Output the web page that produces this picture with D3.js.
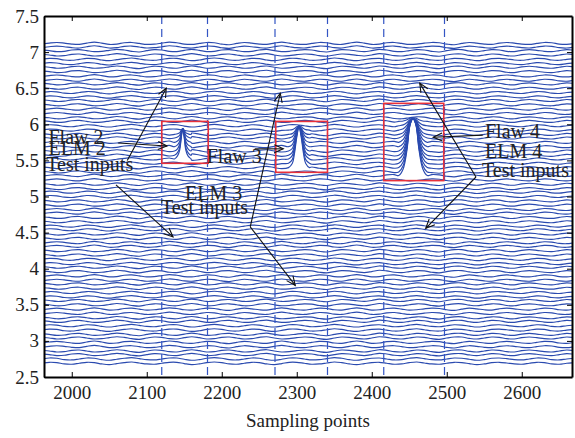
<!DOCTYPE html>
<html>
<head>
<meta charset="utf-8">
<script src="https://cdn.jsdelivr.net/npm/d3@7"></script>
<style>
  body { margin: 0; background: #fff; }
  .tick text { font-family: "Liberation Serif", serif; font-size: 19px; fill: #222; }
  .note { font-family: "Liberation Serif", serif; font-size: 20px; fill: #222; }
</style>
</head>
<body>
<script>
// baselines of the signal traces (one per test input)
var baselines = [2.69, 2.75, 2.81, 2.86, 2.92, 2.98, 3.04, 3.09, 3.15, 3.21, 3.27, 3.32, 3.38, 3.44, 3.50, 3.56,
  3.61, 3.67, 3.73, 3.79, 3.84, 3.90, 3.96, 4.02, 4.07, 4.13, 4.19, 4.25, 4.31, 4.36, 4.42, 4.48, 4.54, 4.59,
  4.65, 4.71, 4.77, 4.82, 4.88, 4.94, 5.00, 5.06, 5.11, 5.17, 5.23, 5.29, 5.34, 5.40, 5.46, 5.52, 5.57, 5.63,
  5.69, 5.75, 5.81, 5.86, 5.92, 5.98, 6.04, 6.09, 6.15, 6.21, 6.27, 6.33, 6.38, 6.44, 6.50, 6.56, 6.61, 6.67,
  6.73, 6.79, 6.84, 6.90, 6.96, 7.02, 7.07, 7.12];

// wiggle profiles, sampled every 10 points starting at 1960 (units of 0.01)
var startX = 1960, stepX = 10;
var wiggle0 = [0, 1.5, 1, -1, -1.5, 0, 1.5, 1, -1, -2, -0.5, 1,
  2, 0.5, -1, -1.5, 0, 1.5, 1.5, -0.5, -2, -1, 1, 2,
  1, -1, -1.5, 0, 1.5, 1, -1, -2, -0.5, 1.5, 1.5, 0,
  -1.5, -1, 0.5, 2, 1, -1, -2, -0.5, 1, 1.5, 0, -1.5,
  -1, 1, 2, 0.5, -1, -1.5, 0, 1.5, 1, -0.5, -2, -1,
  1, 1.5, 0.5, -1, -1.5, 0, 1.5, 1, -1, -1.5, 0, 1];
var wiggle1 = [1, 0, -1.5, -1, 1, 1.5, 0, -1.5, -1, 0.5, 2, 1,
  -1, -2, 0, 1.5, 1, -1, -1.5, 0.5, 2, 0.5, -1.5, -1,
  1, 1.5, 0, -1.5, -1, 1, 2, 0, -1.5, -1, 0.5, 1.5,
  1, -1, -2, 0, 1.5, 1, -0.5, -1.5, 0, 2, 1, -1,
  -1.5, 0, 1.5, 1, -1, -2, 0, 1.5, 1.5, -0.5, -1.5, 0,
  1.5, 1, -1, -1.5, 0.5, 1.5, 0.5, -1, -1.5, 0, 1.5, 0.5];
var wiggle2 = [-1, 0.5, 1.5, 0.5, -1, -1.5, 0.5, 2, 0.5, -1.5, -1, 1,
  1.5, 0, -1.5, -1, 0.5, 2, 1, -1, -1.5, 0, 1.5, 1,
  -1, -2, 0, 1.5, 0.5, -1, -1.5, 0.5, 2, 0.5, -1, -1.5,
  0, 1.5, 1, -1, -1.5, 0.5, 2, 0.5, -1.5, -1, 1, 1.5,
  0, -1.5, -1, 0.5, 1.5, 1, -1, -2, 0, 1.5, 0.5, -1,
  -1.5, 0.5, 1.5, 0.5, -1, -1.5, 0, 1.5, 1, -1, -1.5, 0];
var wiggles = [wiggle0, wiggle1, wiggle2];
var profileCycle = [0, 0, 1, 1, 2, 2, 1, 1];

// flaw echoes: centre, sample offsets, shape, affected traces and their peak heights
var flaw2Center = 2148;
var flaw2Offsets = [-11, -7, -4, -2, 0, 2, 4, 7, 11];
var flaw2Shape = [0, 0.1, 0.3, 0.7, 1, 0.7, 0.3, 0.1, 0];
var flaw2Lines = [5.52, 5.57, 5.63, 5.69, 5.75, 5.81, 5.86];
var flaw2Amps = [0.42, 0.37, 0.31, 0.25, 0.19, 0.13, 0.08];

var flaw3Center = 2303;
var flaw3Offsets = [-14, -9, -6, -3, 0, 3, 6, 9, 14];
var flaw3Shape = [0, 0.1, 0.35, 0.75, 1, 0.75, 0.35, 0.1, 0];
var flaw3Lines = [5.40, 5.46, 5.52, 5.57, 5.63, 5.69, 5.75, 5.81, 5.86, 5.92];
var flaw3Amps = [0.56, 0.51, 0.46, 0.41, 0.35, 0.29, 0.23, 0.17, 0.11, 0.06];

var flaw4Center = 2455;
var flaw4Offsets = [-19, -13, -8, -4, 0, 4, 8, 13, 19];
var flaw4Shape = [0, 0.12, 0.45, 0.88, 1, 0.88, 0.45, 0.12, 0];
var flaw4Lines = [5.29, 5.34, 5.40, 5.46, 5.52, 5.57, 5.63, 5.69, 5.75, 5.81, 5.86, 5.92, 5.98, 6.04];
var flaw4Amps = [0.79, 0.74, 0.68, 0.62, 0.56, 0.5, 0.45, 0.39, 0.33, 0.27, 0.21, 0.15, 0.1, 0.05];

var flaws = [
  {c: flaw2Center, off: flaw2Offsets, shape: flaw2Shape, lines: flaw2Lines, amps: flaw2Amps},
  {c: flaw3Center, off: flaw3Offsets, shape: flaw3Shape, lines: flaw3Lines, amps: flaw3Amps},
  {c: flaw4Center, off: flaw4Offsets, shape: flaw4Shape, lines: flaw4Lines, amps: flaw4Amps}
];

// dashed window boundaries
var windowEdges = [2120, 2181, 2271, 2341, 2416, 2497];

// red boxes [x0, x1, y0, y1]
var boxes = [[2120, 2182, 5.46, 6.04], [2272, 2341, 5.335, 6.04], [2416, 2496, 5.22, 6.29]];

var xTicks = [2000, 2100, 2200, 2300, 2400, 2500, 2600];
var yTicks = [2.5, 3, 3.5, 4, 4.5, 5, 5.5, 6, 6.5, 7, 7.5];

// annotations (data coordinates)
var labels = [
  ["Flaw 2", 1969, 5.73], ["ELM 2", 1969, 5.57], ["Test inputs", 1966, 5.35],
  ["Flaw 3", 2180, 5.46], ["ELM 3", 2151, 4.95], ["Test inputs", 2119, 4.76],
  ["Flaw 4", 2551, 5.81], ["ELM 4", 2551, 5.53], ["Test inputs", 2547, 5.27]
];
var arrows = [
  [2062, 5.74, 2127, 5.70], [2074, 5.50, 2126, 6.50], [2059, 5.16, 2135, 4.44],
  [2244, 5.66, 2282, 5.66], [2238, 4.58, 2278, 6.43], [2238, 4.58, 2298, 3.77],
  [2548, 5.85, 2482, 5.82], [2539, 5.27, 2464, 6.57], [2539, 5.27, 2472, 4.56]
];

var W = 575, H = 438;
var mLeft = 44, mRight = 572, mTop = 16, mBottom = 377;

var svg = d3.select("body").append("svg")
    .attr("width", W)
    .attr("height", H);

var x = d3.scaleLinear().domain([1963, 2667]).range([mLeft, mRight]);
var y = d3.scaleLinear().domain([2.5, 7.5]).range([mBottom, mTop]);

var defs = svg.append("defs");
defs.append("clipPath").attr("id", "clip")
  .append("rect").attr("x", mLeft).attr("y", mTop).attr("width", mRight - mLeft).attr("height", mBottom - mTop);

defs.append("marker")
    .attr("id", "head")
    .attr("viewBox", "-10 -6 12 12")
    .attr("markerWidth", 12).attr("markerHeight", 12)
    .attr("markerUnits", "userSpaceOnUse")
    .attr("orient", "auto")
  .append("path")
    .attr("d", "M-9,-4L0,0L-9,4")
    .attr("fill", "none")
    .attr("stroke", "#111")
    .attr("stroke-width", 1.1);

// build each trace: wiggle points, with flaw echoes replacing the samples they cover
function tracePoints(i) {
  var b = baselines[i];
  var w = wiggles[profileCycle[i % profileCycle.length]];
  var hits = [];
  flaws.forEach(function(fl) {
    var k = fl.lines.indexOf(b);
    if (k >= 0) hits.push({f: fl, amp: fl.amps[k]});
  });
  var pts = [];
  w.forEach(function(v, j) {
    var sx = startX + j * stepX;
    var inside = hits.some(function(h) {
      return sx >= h.f.c + h.f.off[0] && sx <= h.f.c + h.f.off[h.f.off.length - 1];
    });
    if (!inside) pts.push([sx, b + v * 0.009]);
  });
  hits.forEach(function(h) {
    h.f.off.forEach(function(o, j) {
      pts.push([h.f.c + o, b + h.amp * h.f.shape[j]]);
    });
  });
  pts.sort(function(a, c) { return a[0] - c[0]; });
  return pts;
}

var line = d3.line()
    .x(function(d) { return x(d[0]); })
    .y(function(d) { return y(d[1]); })
    .curve(d3.curveCatmullRom);

var plot = svg.append("g").attr("clip-path", "url(#clip)");

plot.selectAll(".trace")
    .data(baselines.map(function(b, i) { return tracePoints(i); }))
  .enter().append("path")
    .attr("class", "trace")
    .attr("d", line)
    .attr("fill", "none")
    .attr("stroke", "#2a4aaf")
    .attr("stroke-width", 1.15);

plot.selectAll(".edge")
    .data(windowEdges)
  .enter().append("line")
    .attr("x1", function(d) { return x(d); })
    .attr("x2", function(d) { return x(d); })
    .attr("y1", mTop)
    .attr("y2", mBottom)
    .attr("stroke", "#3355c4")
    .attr("stroke-width", 1.2)
    .attr("stroke-dasharray", "8,5");

plot.selectAll(".box")
    .data(boxes)
  .enter().append("rect")
    .attr("x", function(d) { return x(d[0]); })
    .attr("y", function(d) { return y(d[3]); })
    .attr("width", function(d) { return x(d[1]) - x(d[0]); })
    .attr("height", function(d) { return y(d[2]) - y(d[3]); })
    .attr("fill", "none")
    .attr("stroke", "#e8303a")
    .attr("stroke-width", 1.6);

// axes
var xaxis = d3.axisBottom(x).tickValues(xTicks).tickSizeInner(-5).tickSizeOuter(0).tickPadding(9)
    .tickFormat(d3.format("d"));
var yaxis = d3.axisLeft(y).tickValues(yTicks).tickSizeInner(-5).tickSizeOuter(0).tickPadding(5)
    .tickFormat(d3.format("~g"));

var gx = svg.append("g").attr("transform", "translate(0," + mBottom + ")").call(xaxis);
var gy = svg.append("g").attr("transform", "translate(" + mLeft + ",0)").call(yaxis);
var gt = svg.append("g").attr("transform", "translate(0," + mTop + ")")
    .call(d3.axisTop(x).tickValues(xTicks).tickSizeInner(-5).tickSizeOuter(0).tickFormat(""));
var gr = svg.append("g").attr("transform", "translate(" + mRight + ",0)")
    .call(d3.axisRight(y).tickValues(yTicks).tickSizeInner(-5).tickSizeOuter(0).tickFormat(""));

[gx, gy, gt, gr].forEach(function(g) {
  g.select(".domain").attr("stroke", "#000").attr("stroke-width", 2);
  g.selectAll(".tick line").attr("stroke", "#000").attr("stroke-width", 1);
});

svg.append("text")
    .attr("class", "note")
    .attr("x", (mLeft + mRight) / 2)
    .attr("y", 427)
    .attr("text-anchor", "middle")
    .style("font-size", "19px")
    .text("Sampling points");

// arrows and labels
svg.selectAll(".arrow")
    .data(arrows)
  .enter().append("line")
    .attr("x1", function(d) { return x(d[0]); })
    .attr("y1", function(d) { return y(d[1]); })
    .attr("x2", function(d) { return x(d[2]); })
    .attr("y2", function(d) { return y(d[3]); })
    .attr("stroke", "#111")
    .attr("stroke-width", 1.1)
    .attr("marker-end", "url(#head)");

svg.selectAll(".lab")
    .data(labels)
  .enter().append("text")
    .attr("class", "note")
    .attr("x", function(d) { return x(d[1]); })
    .attr("y", function(d) { return y(d[2]); })
    .text(function(d) { return d[0]; });
</script>
</body>
</html>
